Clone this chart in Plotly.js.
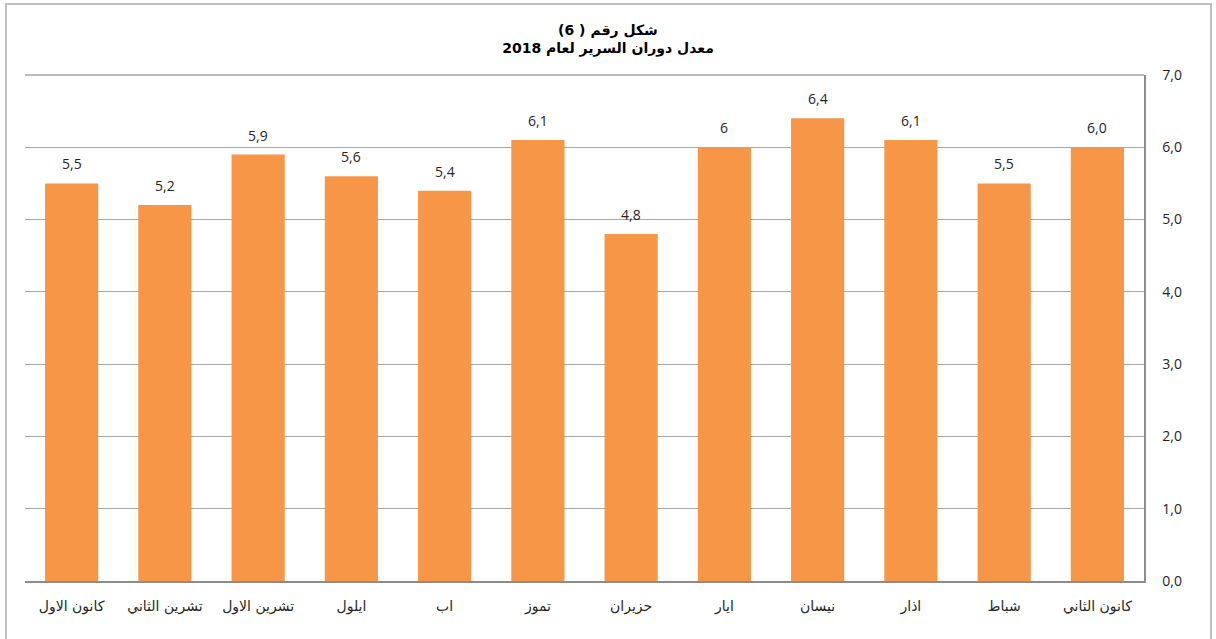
<!DOCTYPE html>
<html>
<head>
<meta charset="utf-8">
<script src="https://cdn.plot.ly/plotly-3.0.1.min.js"></script>
<style>
html,body{margin:0;padding:0;background:#fff;}
#chart{width:1216px;height:639px;}
</style>
</head>
<body>
<div id="chart"></div>
<script>
var months = ["كانون الاول","تشرين الثاني","تشرين الاول","ايلول","اب","تموز","حزيران","ايار","نيسان","اذار","شباط","كانون الثاني"];
var values = [5.5, 5.2, 5.9, 5.6, 5.4, 6.1, 4.8, 6, 6.4, 6.1, 5.5, 6.0];
var valueLabels = ["5,5","5,2","5,9","5,6","5,4","6,1","4,8","6","6,4","6,1","5,5","6,0"];
var titleLine1 = "شكل رقم ( 6)";
var titleLine2 = "معدل دوران السرير لعام 2018";

var trace = {
  type: "bar",
  x: months,
  y: values,
  marker: {color: "#F79646", line: {width: 0}},
  hoverinfo: "x+y"
};

var annotations = months.map(function (m, i) {
  return {
    x: m, y: values[i], xref: "x", yref: "y",
    text: valueLabels[i], showarrow: false,
    xanchor: "center", yanchor: "bottom", yshift: 8,
    font: {family: "Open Sans, Noto Sans, sans-serif", size: 14, color: "#262626"}
  };
});

var layout = {
  width: 1216, height: 639,
  margin: {l: 25, r: 72, t: 75, b: 58, pad: 0},
  paper_bgcolor: "#ffffff",
  plot_bgcolor: "#ffffff",
  bargap: 0.43,
  separators: ",.",
  showlegend: false,
  title: {
    text: "<b>" + titleLine1 + "<br>" + titleLine2 + "</b>",
    x: 0.5, xref: "container", xanchor: "center",
    y: 0.9456, yref: "container", yanchor: "middle",
    font: {family: "DejaVu Sans, Liberation Sans, sans-serif", size: 14, color: "#000"}
  },
  xaxis: {
    type: "category",
    showgrid: false,
    zeroline: false,
    showline: true,
    linecolor: "#8c8c8c",
    linewidth: 2,
    ticks: "",
    ticklabelstandoff: 11,
    tickfont: {family: "DejaVu Sans, sans-serif", size: 14, color: "#262626"},
    fixedrange: true
  },
  yaxis: {
    side: "right",
    range: [0, 7],
    dtick: 1,
    tick0: 0,
    tickformat: ".1f",
    showgrid: true,
    gridcolor: "#a6a6a6",
    gridwidth: 1,
    zeroline: false,
    showline: true,
    linecolor: "#8c8c8c",
    linewidth: 1.5,
    ticks: "",
    ticklabelstandoff: 14,
    tickfont: {family: "Open Sans, Noto Sans, sans-serif", size: 14, color: "#262626"},
    fixedrange: true
  },
  annotations: annotations,
  shapes: [
    {type: "line", xref: "paper", yref: "paper", x0: 0, x1: 1, y0: 1, y1: 1,
     line: {color: "#a6a6a6", width: 1.5}},
    {type: "rect", xref: "paper", yref: "paper",
     x0: (6-25)/1119, x1: (1211-25)/1119, y0: (581-650)/506, y1: (581-4)/506,
     line: {color: "#bfbfbf", width: 2}, fillcolor: "rgba(0,0,0,0)", layer: "below"}
  ]
};

Plotly.newPlot("chart", [trace], layout, {displayModeBar: false, staticPlot: true});
</script>
</body>
</html>
